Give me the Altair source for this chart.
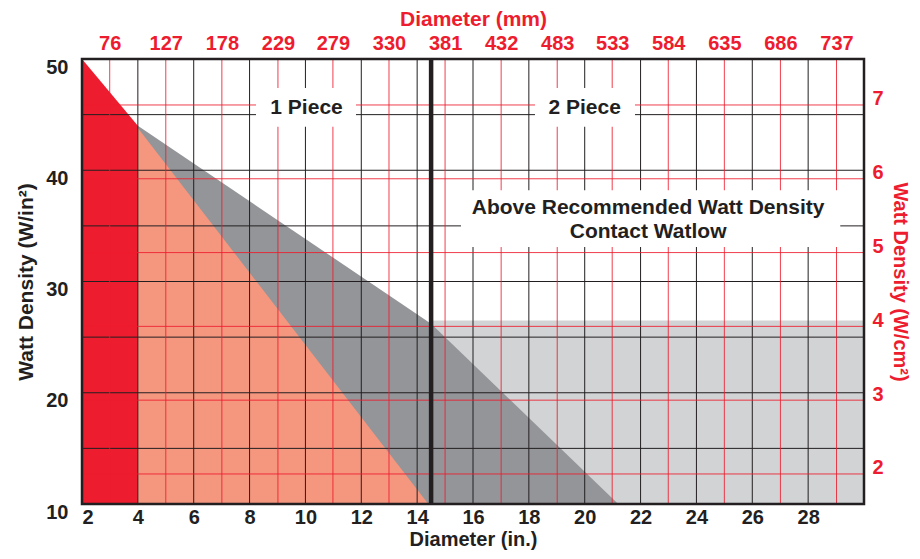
import altair as alt
import pandas as pd

# ---------------- data ----------------
x_ticks_in = [2, 4, 6, 8, 10, 12, 14, 16, 18, 20, 22, 24, 26, 28]
x_grid_in = [4, 6, 8, 10, 12, 14, 16, 18, 20, 22, 24, 26, 28]
y_ticks_in = [10, 20, 30, 40, 50]
y_grid_in = [15, 20, 25, 30, 35, 40, 45]
mm_ticks = [76, 127, 178, 229, 279, 330, 381, 432, 483, 533, 584, 635, 686, 737]
cm_ticks = [2, 3, 4, 5, 6, 7]

red_x = [2, 4]
red_y = [50, 44]
salmon_x = [4, 14.4]
salmon_y = [43.8, 10]
dark_x = [4, 14.5, 21.2]
dark_y = [44, 26.2, 10]
light_x = [14.5, 30]
light_y = [10, 26.5]
divider_x = [14.5]

label_texts = ["1 Piece", "2 Piece", "Above Recommended Watt Density", "Contact Watlow"]
label_x = [10.04, 20.0, 22.27, 22.27]
label_y = [45.6, 45.6, 36.6, 34.45]
box_x0 = [8.23, 18.22, 15.57]
box_x1 = [11.81, 21.8, 29.15]
box_y0 = [43.9, 43.9, 33.1]
box_y1 = [47.4, 47.4, 38.2]

# ---------------- styling ----------------
FONT = "Liberation Sans"
BLACK = "#231F20"
RED = "#ED1C2E"
SALMON = "#F5967F"
DARK = "#939598"
LIGHT = "#D1D3D4"

XD = [2, 30]
YD = [10, 50]
MMD = [2 * 25.4, 30 * 25.4]
CMD = [1.593, 7.623]


def sc(d):
    return alt.Scale(domain=d, nice=False, zero=False)


def area(xs, ys, color):
    df = pd.DataFrame({"x": xs, "y": ys, "base": [10] * len(xs)})
    return alt.Chart(df).mark_area(color=color, opacity=1).encode(
        x=alt.X("x:Q", scale=sc(XD), axis=None),
        y=alt.Y("y:Q", scale=sc(YD), axis=None),
        y2="base:Q",
    )


light = alt.Chart(pd.DataFrame({"x": [light_x[0]], "x2": [light_x[1]],
                                "y": [light_y[0]], "y2": [light_y[1]]})).mark_rect(color=LIGHT).encode(
    x=alt.X("x:Q", scale=sc(XD), axis=None), x2="x2:Q",
    y=alt.Y("y:Q", scale=sc(YD), axis=None), y2="y2:Q")

dark = area(dark_x, dark_y, DARK)
salmon = area(salmon_x, salmon_y, SALMON)
red = area(red_x, red_y, RED)

vgrid = alt.Chart(pd.DataFrame({"x": x_grid_in})).mark_rule(color=BLACK, strokeWidth=1).encode(
    x=alt.X("x:Q", scale=sc(XD), axis=alt.Axis(
        orient="bottom", values=x_ticks_in, title="Diameter (in.)", format="d",
        grid=False, ticks=False, domain=False,
        labelFont=FONT, labelFontSize=20, labelFontWeight="bold", labelColor=BLACK,
        labelPadding=3, titleFont=FONT, titleFontSize=20, titleFontWeight="bold",
        titleColor=BLACK, titlePadding=2)))

hgrid = alt.Chart(pd.DataFrame({"y": y_grid_in})).mark_rule(color=BLACK, strokeWidth=1).encode(
    y=alt.Y("y:Q", scale=sc(YD), axis=alt.Axis(
        orient="left", values=y_ticks_in, title="Watt Density (W/in²)", format="d",
        grid=False, ticks=False, domain=False, labelOffset=8,
        labelFont=FONT, labelFontSize=20, labelFontWeight="bold", labelColor=BLACK,
        labelPadding=14, titleFont=FONT, titleFontSize=21, titleFontWeight="bold",
        titleColor=BLACK, titlePadding=9)))

vred = alt.Chart(pd.DataFrame({"x": mm_ticks})).mark_rule(color=RED, strokeWidth=1, opacity=0.85).encode(
    x=alt.X("x:Q", scale=sc(MMD), axis=alt.Axis(
        orient="top", values=mm_ticks, title="Diameter (mm)", format="d",
        grid=False, ticks=False, domain=False,
        labelFont=FONT, labelFontSize=20, labelFontWeight="bold", labelColor=RED,
        labelPadding=6, titleFont=FONT, titleFontSize=21, titleFontWeight="bold",
        titleColor=RED, titlePadding=4)))

hred = alt.Chart(pd.DataFrame({"y": cm_ticks})).mark_rule(color=RED, strokeWidth=1, opacity=0.85).encode(
    y=alt.Y("y:Q", scale=sc(CMD), axis=alt.Axis(
        orient="right", values=cm_ticks, title="Watt Density (W/cm²)", format="d",
        grid=False, ticks=False, domain=False, labelOffset=-6,
        labelFont=FONT, labelFontSize=20, labelFontWeight="bold", labelColor=RED,
        labelPadding=8, titleFont=FONT, titleFontSize=20, titleFontWeight="bold",
        titleColor=RED, titlePadding=6)))

divider = alt.Chart(pd.DataFrame({"x": divider_x})).mark_rule(color=BLACK, strokeWidth=4.5).encode(
    x=alt.X("x:Q", scale=sc(XD), axis=None))

boxes = alt.Chart(pd.DataFrame({"x": box_x0, "x2": box_x1, "y": box_y0, "y2": box_y1})).mark_rect(
    color="white").encode(
    x=alt.X("x:Q", scale=sc(XD), axis=None), x2="x2:Q",
    y=alt.Y("y:Q", scale=sc(YD), axis=None), y2="y2:Q")

texts = alt.Chart(pd.DataFrame({"x": label_x, "y": label_y, "t": label_texts})).mark_text(
    font=FONT, fontSize=21, fontWeight="bold", color=BLACK, align="center", baseline="middle").encode(
    x=alt.X("x:Q", scale=sc(XD), axis=None),
    y=alt.Y("y:Q", scale=sc(YD), axis=None),
    text="t:N")

frame = alt.Chart(pd.DataFrame({"x": [XD[0]], "x2": [XD[1]], "y": [YD[0]], "y2": [YD[1]]})).mark_rect(
    fillOpacity=0, stroke=BLACK, strokeWidth=2.5).encode(
    x=alt.X("x:Q", scale=sc(XD), axis=None), x2="x2:Q",
    y=alt.Y("y:Q", scale=sc(YD), axis=None), y2="y2:Q")

chart = alt.layer(
    light, dark, salmon, red, vgrid, hgrid, vred, hred, divider, boxes, texts, frame
).resolve_scale(x="independent", y="independent").properties(
    width=782, height=445,
    autosize=alt.AutoSizeParams(type="none"),
    padding={"left": 74, "top": 51, "right": 48, "bottom": 47},
    background="white",
).configure_view(strokeWidth=0)

chart.save("out.html", embed_options={"renderer": "svg", "actions": False})
